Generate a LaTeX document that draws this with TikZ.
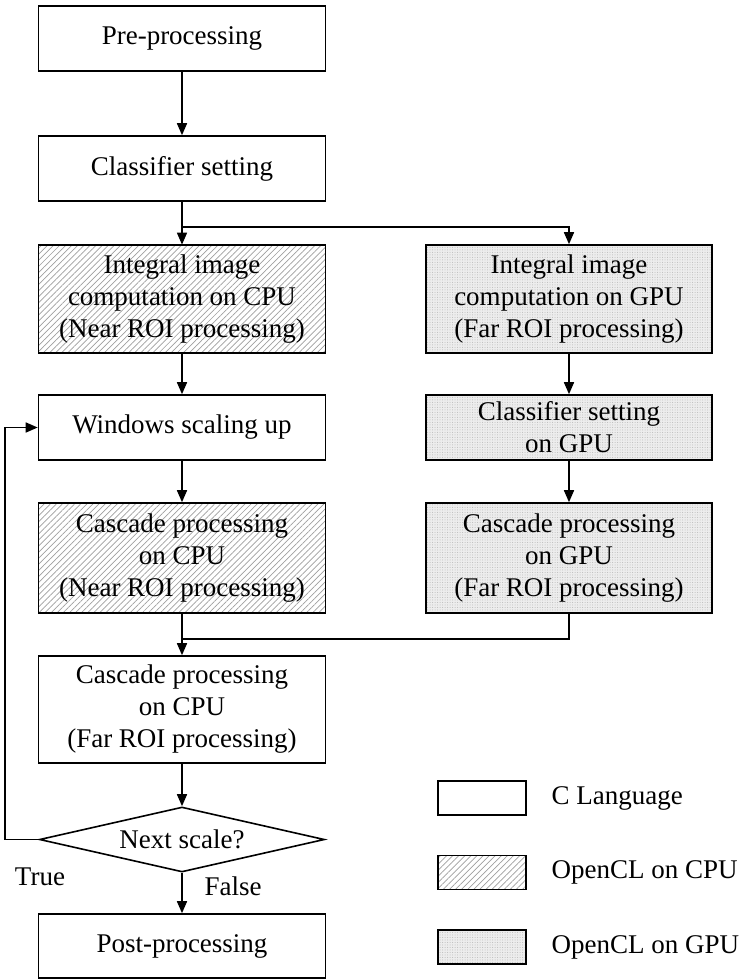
\documentclass[tikz,border=0pt]{standalone}
\usepackage{fontspec}
\setmainfont{Liberation Serif}
\usetikzlibrary{arrows.meta,patterns.meta,shapes.geometric}
\tikzset{>={Triangle[length=12pt,width=10pt]},every node/.style={font=\fontsize{27}{32}\selectfont},
box/.style={draw,line width=1.6pt,minimum width=287pt,align=center,inner sep=0pt},
cpu/.style={box,preaction={fill=white},pattern={Lines[angle=45,distance=4.3pt,line width=.7pt]},pattern color=gray!75},
gpu/.style={box,preaction={fill=gray!14},pattern={Dots[distance=2.5pt,radius=.5pt]},pattern color=gray!55},
flow/.style={line width=1.6pt,->},edge/.style={line width=1.6pt}}
\begin{document}
\begin{tikzpicture}[x=1pt,y=-1pt]
\useasboundingbox (0,0) rectangle (741,980);
% left column
\node[box,minimum height=65pt] (pre) at (182,38.5){Pre-processing};
\node[box,minimum height=65pt] (cls) at (182,168.5){Classifier setting};
\node[cpu,minimum height=108pt] (intc) at (182,299){Integral image\\computation on CPU\\(Near ROI processing)};
\node[box,minimum height=65pt] (win) at (182,427.5){Windows scaling up};
\node[cpu,minimum height=110pt] (casc) at (182,558){Cascade processing\\on CPU\\(Near ROI processing)};
\node[box,minimum height=107pt] (casf) at (182,709.5){Cascade processing\\on CPU\\(Far ROI processing)};
\node[box,shape=diamond,aspect=4.38,minimum width=285pt,minimum height=65pt] (dec) at (182,839.5){Next scale?};
\node[box,minimum height=64pt] (post) at (182,946){Post-processing};
% right column
\node[gpu,minimum width=286pt,minimum height=108pt] (intg) at (569,299){Integral image\\computation on GPU\\(Far ROI processing)};
\node[gpu,minimum width=286pt,minimum height=65pt] (clsg) at (569,427.5){Classifier setting\\on GPU};
\node[gpu,minimum width=286pt,minimum height=110pt] (casg) at (569,558){Cascade processing\\on GPU\\(Far ROI processing)};
% connectors
\foreach \a/\b in {pre/cls,cls/intc,intc/win,win/casc,casc/casf,casf/dec,dec/post,intg/clsg,clsg/casg}{\draw[flow] (\a)--(\b);}
\coordinate (br) at (182,227);\coordinate (jn) at (182,639);\coordinate (lp) at (5,839.5);
\draw[flow] (br) -| (intg.north);\draw[edge] (casg.south) |- (jn);
\draw[flow] (dec.west) -- (lp) |- (win.west);
\node (tr) at (40,877){True};\node (fl) at (233,886){False};
% legend
\foreach \s/\y/\t/\n in {box/798/C Language/lc,cpu/872.5/OpenCL on CPU/lo,gpu/947/OpenCL on GPU/lg}{
\node[\s,minimum width=88pt,minimum height=34pt] (\n) at (482,\y){};\node[right] at (548,\y){\t};}
\end{tikzpicture}
\end{document}
